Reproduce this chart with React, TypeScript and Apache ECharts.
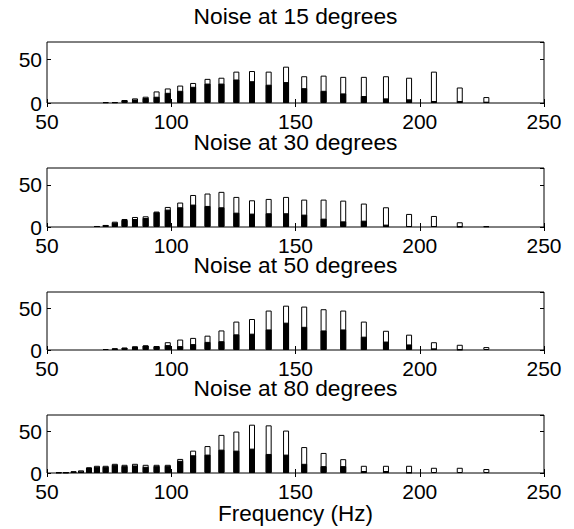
import React, { useEffect, useRef } from "react";
import * as echarts from "echarts";

const FREQS = [54.7, 57.6, 60.7, 63.7, 66.9, 70.1, 73.6, 77.3, 81.2, 85.4, 89.7, 94.1, 98.6, 103.6, 108.8, 114.6, 120.2, 126.2, 132.5, 139.2, 146.2, 153.5, 161.3, 169.2, 177.5, 186.4, 195.7, 205.7, 216.1, 226.8];

const TITLES = ["Noise at 15 degrees", "Noise at 30 degrees", "Noise at 50 degrees", "Noise at 80 degrees"];

const WHITE_15 = [0, 0, 0, 0, 0, 0, 1, 1, 3.4, 5.3, 7.2, 13.3, 16.7, 20, 23, 27.7, 29, 36, 36.7, 36, 41.7, 30.7, 31.4, 30, 30, 30.7, 29, 36, 17.8, 6.8];
const BLACK_15 = [0, 0, 0, 0, 0, 0, 1, 1, 3.4, 4, 5.7, 7.2, 11.7, 14, 18.6, 22.3, 22.3, 27, 25, 21, 24, 17, 14, 11, 8, 5.3, 4.2, 2.3, 2.3, 1.5];

const WHITE_30 = [0, 0, 0, 0, 0, 1.2, 2.4, 6.3, 9.5, 11.9, 12.7, 18.3, 23.8, 29, 38, 39.7, 41.7, 35.7, 31.7, 33.3, 35.7, 32.5, 32.5, 31.3, 27.8, 23.4, 15.5, 13.1, 5.6, 0.8];
const BLACK_30 = [0, 0, 0, 0, 0, 1.2, 2.4, 5.2, 8.3, 9.5, 10.7, 17.5, 20.6, 23.4, 26.6, 25, 23.4, 17, 15.9, 16.3, 16.3, 14.7, 9.9, 6.7, 7.5, 2.8, 1.2, 1.2, 0.4, 0];

const WHITE_50 = [0, 0, 0, 0, 0, 0, 1.2, 2, 2.8, 4.3, 5.5, 4.7, 9.4, 12.6, 14.6, 17.3, 23.6, 34.3, 37.4, 47.6, 53.5, 52.4, 49.2, 47.6, 34.3, 23.2, 18.5, 9.4, 6.3, 3.5];
const BLACK_50 = [0, 0, 0, 0, 0, 0, 1.2, 2, 2.8, 4.3, 5.5, 4.7, 5.9, 4.7, 7.1, 9.8, 10.6, 18.9, 19.7, 24.8, 33, 28, 23.6, 24.8, 16.1, 10.2, 6.7, 2, 0.5, 0];

const WHITE_80 = [0.8, 0.8, 2, 3.2, 6.7, 8.7, 8.7, 11.1, 9.9, 11.1, 9.9, 9.9, 9.9, 17, 27, 32.5, 46, 50, 58.3, 57.5, 51.2, 31.3, 24.2, 16.7, 8.7, 8.7, 8.7, 6.3, 6.3, 4.8];
const BLACK_80 = [0.8, 0.8, 2, 2, 6.7, 7.5, 7.5, 9.9, 8.3, 9.1, 7.5, 8.3, 8.7, 14.7, 21.4, 22.2, 28.2, 27, 29.4, 23, 22.2, 11.1, 8.3, 8.3, 2.4, 2.4, 0.5, 0, 0, 0];

const WHITES = [WHITE_15, WHITE_30, WHITE_50, WHITE_80];
const BLACKS = [BLACK_15, BLACK_30, BLACK_50, BLACK_80];

const X_MIN = 50;
const X_MAX = 250;
const X_STEP = 50;
const Y_MIN = 0;
const Y_MAX = 70;
const Y_STEP = 50;
const X_LABEL = "Frequency (Hz)";

const FONT = '"Liberation Sans", Arial, Helvetica, sans-serif';

const GRIDS = [
  { top: 42, height: 61 },
  { top: 168, height: 59 },
  { top: 292, height: 58 },
  { top: 415, height: 58 },
];
const TITLE_Y = [15.5, 142.2, 264.5, 388.2];

export default function App() {
  const ref = useRef<HTMLDivElement>(null);
  useEffect(() => {
    if (!ref.current) return;
    const chart = echarts.init(ref.current, undefined, { renderer: "svg" });
    const xAxes: any[] = [];
    const yAxes: any[] = [];
    const series: any[] = [];
    const grids: any[] = [];
    const graphics: any[] = [];
    GRIDS.forEach((g, i) => {
      grids.push({
        left: 47,
        right: 30,
        top: g.top,
        height: g.height,
        show: true,
        borderColor: "#000",
        borderWidth: 1,
        backgroundColor: "transparent",
      });
      const baseX = {
        gridIndex: i,
        type: "value",
        min: X_MIN,
        max: X_MAX,
        interval: X_STEP,
        axisLine: { show: false },
        axisTick: { show: true, inside: true, length: 4, lineStyle: { color: "#000", width: 1 } },
        splitLine: { show: false },
      };
      xAxes.push({
        ...baseX,
        position: "bottom",
        axisLabel: { show: true, fontSize: 21, color: "#000", fontFamily: FONT, margin: 9.5, lineHeight: 18 },
      });
      xAxes.push({ ...baseX, position: "top", axisLabel: { show: false } });
      const baseY = {
        gridIndex: i,
        type: "value",
        min: Y_MIN,
        max: Y_MAX,
        interval: Y_STEP,
        axisLine: { show: false },
        axisTick: { show: true, inside: true, length: 4, lineStyle: { color: "#000", width: 1 } },
        splitLine: { show: false },
      };
      yAxes.push({
        ...baseY,
        position: "left",
        axisLabel: { show: true, fontSize: 21, color: "#000", fontFamily: FONT, margin: 5, showMaxLabel: false, lineHeight: 18 },
      });
      yAxes.push({ ...baseY, position: "right", axisLabel: { show: false } });
      const w = FREQS.map((f, j) => [f, WHITES[i][j]]).filter((d) => d[1] > 0);
      const b = FREQS.map((f, j) => [f, BLACKS[i][j]]).filter((d) => d[1] > 0);
      series.push({
        type: "bar",
        xAxisIndex: 2 * i,
        yAxisIndex: 2 * i,
        data: w,
        barWidth: 6,
        barGap: "-100%",
        silent: true,
        itemStyle: { color: "#fff", borderColor: "#000", borderWidth: 1 },
      });
      series.push({
        type: "bar",
        xAxisIndex: 2 * i,
        yAxisIndex: 2 * i,
        data: b,
        barWidth: 6,
        barGap: "-100%",
        silent: true,
        itemStyle: { color: "#000", borderColor: "#000", borderWidth: 1 },
      });
      graphics.push({
        type: "text",
        x: 295.5,
        y: TITLE_Y[i],
        style: {
          text: TITLES[i],
          font: `22.8px ${FONT}`,
          fill: "#000",
          textAlign: "center",
          textVerticalAlign: "middle",
          align: "center",
          verticalAlign: "middle",
          lineHeight: 18,
        },
      });
    });
    graphics.push({
      type: "text",
      x: 295.5,
      y: 513.9,
      style: {
        text: X_LABEL,
        font: `22.5px ${FONT}`,
        fill: "#000",
        textAlign: "center",
        textVerticalAlign: "middle",
        align: "center",
        verticalAlign: "middle",
        lineHeight: 20,
      },
    });
    chart.setOption({
      animation: false,
      backgroundColor: "#fff",
      grid: grids,
      xAxis: xAxes,
      yAxis: yAxes,
      series,
      graphic: graphics,
    });
    return () => chart.dispose();
  }, []);
  return (
    <div
      ref={ref}
      style={{ position: "absolute", left: 0, top: 0, width: 574, height: 529 }}
    />
  );
}
